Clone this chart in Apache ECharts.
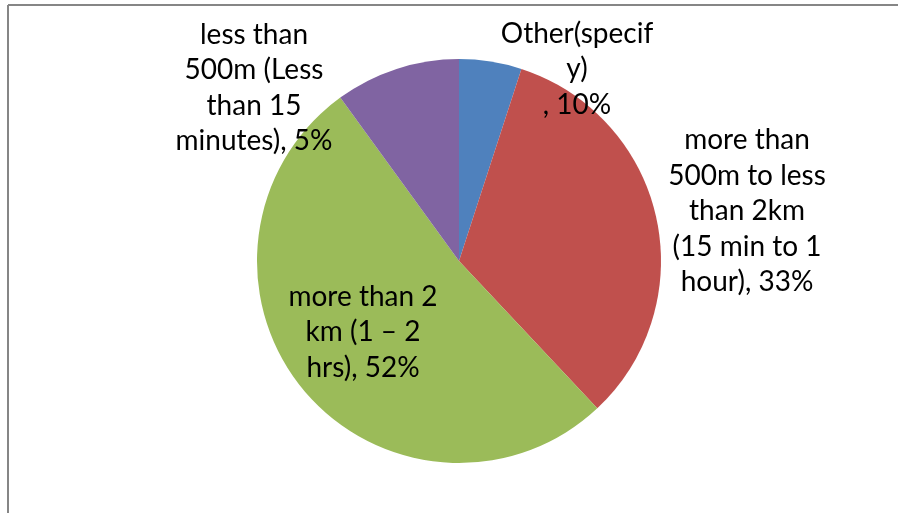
<!DOCTYPE html>
<html>
<head>
<meta charset="utf-8">
<script src="https://cdn.jsdelivr.net/npm/echarts@6/dist/echarts.min.js"></script>
<style>
html,body{margin:0;padding:0;background:#fff;}
#chart{width:898px;height:513px;}
</style>
</head>
<body>
<div id="chart"></div>
<script>
// Data
var categories = [
  'less than 500m (Less than 15 minutes)',
  'more than 500m to less than 2km (15 min to 1 hour)',
  'more than 2 km (1 – 2 hrs)',
  'Other(specify)'
];
var values = [5, 33, 52, 10];
var labelTexts = [
  'less than\n500m (Less\nthan 15\nminutes), 5%',
  'more than\n500m to less\nthan 2km\n(15 min to 1\nhour), 33%',
  'more than 2\nkm (1 – 2\nhrs), 52%',
  'Other(specif\ny)\n, 10%'
];
var colors = ['#4F81BD', '#C0504D', '#9BBB59', '#8064A2'];

// label anchor positions (layout only)
var labelPos = [[254, 88], [747, 211], [363, 332], [577, 69]];

var chart = echarts.init(document.getElementById('chart'), null, {renderer: 'canvas'});
chart.setOption({
  animation: false,
  backgroundColor: '#fff',
  color: colors,
  graphic: [
    {type: 'line', shape: {x1: 8, y1: 5, x2: 898, y2: 5}, style: {stroke: '#868686', lineWidth: 2}},
    {type: 'line', shape: {x1: 8, y1: 5, x2: 8, y2: 513}, style: {stroke: '#868686', lineWidth: 2}}
  ],
  series: [{
    type: 'pie',
    center: [459, 261],
    radius: 202,
    startAngle: 90,
    clockwise: true,
    avoidLabelOverlap: false,
    data: categories.map(function (c, i) { return {name: c, value: values[i]}; }),
    itemStyle: {borderWidth: 0},
    label: {
      show: true,
      position: 'outside',
      formatter: function (p) { return labelTexts[p.dataIndex]; },
      fontFamily: 'Lato, "Open Sans", sans-serif',
      fontSize: 28,
      lineHeight: 35.5,
      color: '#000',
      align: 'center'
    },
    labelLine: {show: false},
    labelLayout: function (params) {
      var p = labelPos[params.dataIndex];
      return {x: p[0], y: p[1], align: 'center', verticalAlign: 'middle'};
    },
    emphasis: {disabled: true}
  }]
});
</script>
</body>
</html>
